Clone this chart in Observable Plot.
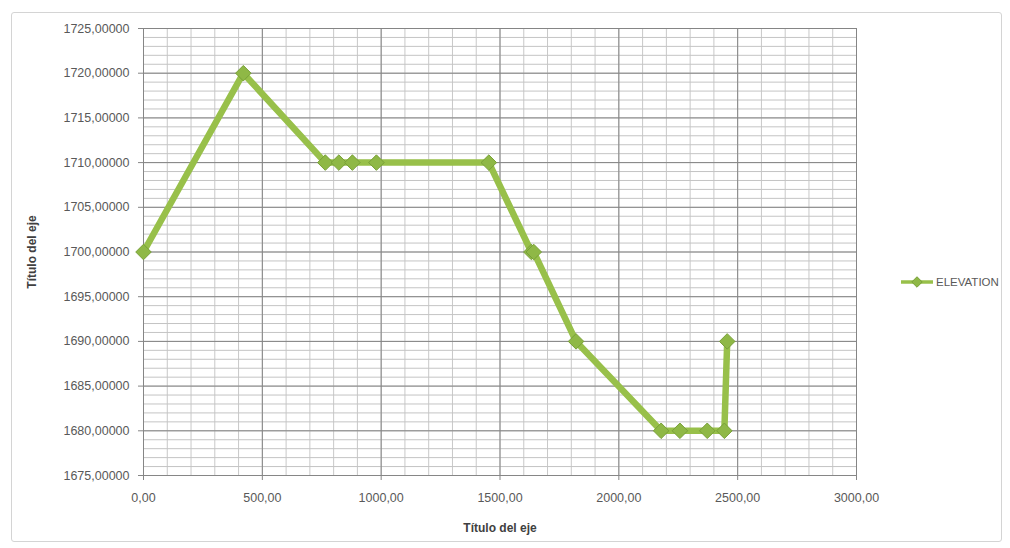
<!DOCTYPE html>
<html>
<head>
<meta charset="utf-8">
<script src="https://cdn.jsdelivr.net/npm/d3@7"></script>
<script src="https://cdn.jsdelivr.net/npm/@observablehq/plot@0.6"></script>
<style>
  html, body { margin: 0; padding: 0; background: #ffffff; }
  #wrap { position: relative; width: 1010px; height: 548px; overflow: hidden; font-family: "Liberation Sans", Arial, sans-serif; }
  #frame { position: absolute; left: 11px; top: 12px; width: 991px; height: 530px; border: 1px solid #d4d4d4; border-radius: 3px; box-sizing: border-box; pointer-events: none; }
  #legend { position: absolute; left: 900px; top: 273px; display: flex; align-items: center; font-size: 11.5px; color: #595959; }
  #legend svg { margin-right: 2px; }
  #chart { position: absolute; left: 0; top: 0; }
</style>
</head>
<body>
<div id="wrap">
  <div id="chart"></div>
  <div id="frame"></div>
  <div id="legend"></div>
</div>
<script>
// Profile: cumulative distance along the section and ground elevation
const distance  = [0, 420, 765, 822, 879, 980, 1453, 1632, 1642, 1820, 2178, 2257, 2372, 2444, 2456];
const elevation = [1700, 1720, 1710, 1710, 1710, 1710, 1710, 1700, 1700, 1690, 1680, 1680, 1680, 1680, 1690];
const seriesName = "ELEVATION";
const axisTitle = "Título del eje";

const xTicks = [0, 500, 1000, 1500, 2000, 2500, 3000];
const yTicks = [1675, 1680, 1685, 1690, 1695, 1700, 1705, 1710, 1715, 1720, 1725];

const lineColor = "#98c04a";
const markerFill = "#8fb846";
const markerStroke = "#78a038";

const data = distance.map((d, i) => ({distance: d, elevation: elevation[i]}));

const commaFixed = n => v => v.toFixed(n).replace(".", ",");

const chart = Plot.plot({
  width: 1010,
  height: 548,
  marginLeft: 143,
  marginRight: 154,
  marginTop: 28,
  marginBottom: 73,
  style: {fontFamily: "'Liberation Sans', Arial, sans-serif", fontSize: "12.5px", color: "#595959", background: "transparent"},
  x: {domain: [0, 3000]},
  y: {domain: [1675, 1725]},
  marks: [
    // minor grid
    Plot.gridX({ticks: d3.range(0, 3001, 100), stroke: "#c8c8c8", strokeOpacity: 1}),
    Plot.gridY({ticks: d3.range(1675, 1726, 1), stroke: "#c4c4c4", strokeOpacity: 1}),
    // major grid
    Plot.gridX({ticks: xTicks, stroke: "#858585", strokeOpacity: 1}),
    Plot.gridY({ticks: yTicks, stroke: "#858585", strokeOpacity: 1}),
    // axes
    Plot.axisY({ticks: yTicks, tickFormat: commaFixed(5), tickSize: 5, tickPadding: 9,
      stroke: "#868686", label: axisTitle, labelAnchor: "center", labelArrow: "none", labelOffset: 116,
      fontWeight: "normal"}),
    Plot.axisX({ticks: xTicks, tickFormat: commaFixed(2), tickSize: 5, tickPadding: 13,
      stroke: "#868686", label: axisTitle, labelAnchor: "center", labelArrow: "none", labelOffset: 56}),
    Plot.ruleX([0], {stroke: "#868686"}),
    Plot.ruleY([1675], {stroke: "#868686"}),
    // profile line and markers
    Plot.line(data, {x: "distance", y: "elevation", stroke: lineColor, strokeWidth: 6.5, strokeLinejoin: "round", strokeLinecap: "round"}),
    Plot.dot(data, {x: "distance", y: "elevation", symbol: "diamond2", r: 7, fill: markerFill, stroke: markerStroke, strokeWidth: 1, strokeLinejoin: "round"})
  ]
});

// bold axis titles
chart.querySelectorAll("[aria-label='y-axis label'] text, [aria-label='x-axis label'] text").forEach(t => {
  t.setAttribute("font-weight", "bold");
  t.setAttribute("font-size", "12px");
  t.setAttribute("fill", "#404040");
});
document.getElementById("chart").appendChild(chart);

// legend
const legend = d3.select("#legend");
const sw = legend.append("svg").attr("width", 34).attr("height", 18);
sw.append("line").attr("x1", 1).attr("x2", 33).attr("y1", 9).attr("y2", 9)
  .attr("stroke", lineColor).attr("stroke-width", 3.5);
sw.append("path").attr("transform", "translate(17,9)")
  .attr("d", d3.symbol(d3.symbolDiamond2, 70)())
  .attr("fill", markerFill).attr("stroke", markerStroke);
legend.append("span").text(seriesName);
</script>
</body>
</html>
